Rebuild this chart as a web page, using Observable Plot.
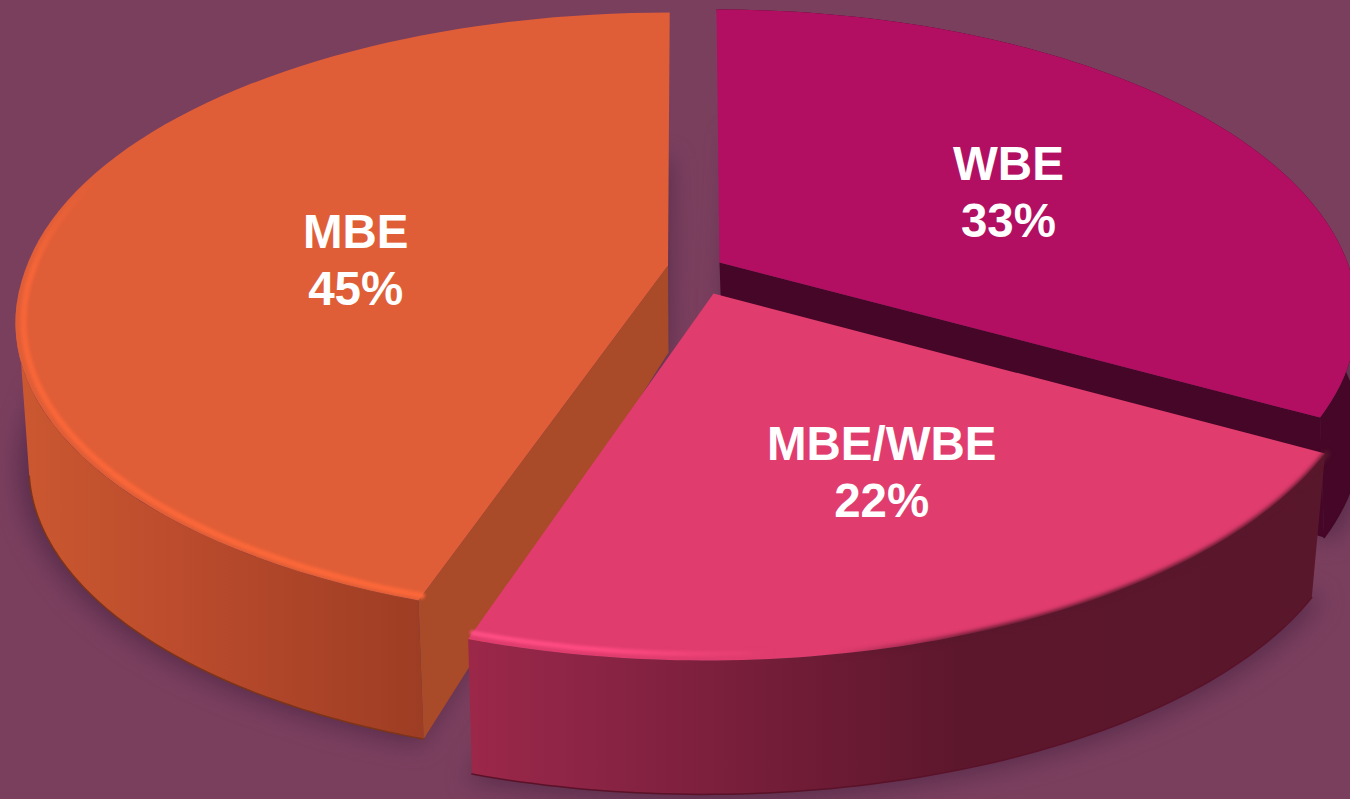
<!DOCTYPE html>
<html><head><meta charset="utf-8">
<script src="https://cdn.jsdelivr.net/npm/d3@7"></script>
<script src="https://cdn.jsdelivr.net/npm/@observablehq/plot@0.6"></script>
<style>html,body{margin:0;padding:0;background:#7b3f5e;overflow:hidden}svg{display:block}</style>
</head><body><div id="chart"></div>
<script>
const categories = ["MBE", "WBE", "MBE/WBE"];
const shares = [45, 33, 22];

// where each slice starts (clockwise from the back of the pie), in percent
const starts = {MBE: -45, WBE: 0, "MBE/WBE": 33};
const slicesLayout = {
  MBE:       {ax: 667.5, ay: 265, bx: 668, by: 352, cx: 668, cy: 410, a: 641, tb: 295.7, sb: 2,    sf: 12, lr: 0.5,  ld: 16, lx: 0},
  WBE:       {ax: 719,   ay: 262, bx: 722, by: 350, cx: 735, cy: 385, a: 628, tb: 295.7, sb: -3.5, sf: -3, lr: 0.55, ld: 7,  lx: 6},
  "MBE/WBE": {ax: 713,   ay: 293, bx: 706, by: 387, cx: 712, cy: 445, a: 645, tb: 305,   sb: 4,    sf: 7,  lr: 0.65, ld: -29, lx: 1}
};
const k = 0.1688, botB = 290, botScale = 0.98;
const orangeWallTopEnd = -27, orangeWallBotEnd = -28.5;

function project(sl, pct, r, plane) {
  const t = pct / 100 * 2 * Math.PI, X = r * Math.sin(t), Z = r * Math.cos(t), d = 1 + k * Z;
  const top = plane === "top";
  const a = top ? sl.a : sl.a * botScale, b = top ? sl.tb : botB;
  return {x: (top ? sl.ax : sl.cx) + (a * X + (Z > 0 ? sl.sb : sl.sf) * Z) / d, y: (top ? sl.ay : sl.cy) - b * Z / d};
}
function arc(sl, p0, p1, r, plane, n = 80) {
  return d3.range(n + 1).map(i => project(sl, p0 + (p1 - p0) * i / n, r, plane));
}
const apex = (sl, plane) => plane === "top" ? {x: sl.ax, y: sl.ay} : {x: sl.bx, y: sl.by};

const poly = (pts, fill) => Plot.line(pts, {x: "x", y: "y", fill, stroke: "none", curve: "linear-closed"});
const path = (pts, stroke, sw, filter) => Plot.line(pts, {x: "x", y: "y", stroke, strokeWidth: sw, fill: "none", imageFilter: filter, strokeLinecap: "round"});

const gradients = () => {
  const defs = d3.create("svg:defs");
  const add = (id, stops, vertical) => {
    const g = defs.append("linearGradient").attr("id", id).attr("x1", 0).attr("x2", vertical ? 0 : 1).attr("y1", 0).attr("y2", vertical ? 1 : 0);
    stops.forEach(([o, c, op]) => g.append("stop").attr("offset", o).attr("stop-color", c).attr("stop-opacity", op ?? 1));
  };
  add("wallO", [[0, "#cb5830"], [0.45, "#b94a2c"], [1, "#9d3d23"]]);
  add("wallP", [[0, "#9c2749"], [0.11, "#8f2547"], [0.39, "#701c36"], [0.57, "#5d172d"], [1, "#59172b"]]);
  add("rimP", [[0, "#ff4f85"], [0.16, "#ff4a80"], [0.36, "#ff4a80", 0], [1, "#ff4a80", 0]]);
  add("rimD", [[0, "#5a172c", 0], [0.42, "#5a172c", 0], [0.6, "#5a172c"], [1, "#5a172c"]]);
  add("rimO", [[0, "#fb6739", 0], [0.22, "#fb6739", 0.8], [1, "#fb6739"]], true);
  return defs.node();
};

const marks = [gradients];
// soft shadows on the background
categories.forEach((c, i) => {
  const sl = slicesLayout[c], p0 = starts[c], p1 = p0 + shares[i];
  marks.push(Plot.line([apex(sl, "bot"), ...arc(sl, p0, p1, 1.015, "bot")], {x: "x", y: "y", fill: "#4f2745", fillOpacity: 0.75, stroke: "none", curve: "linear-closed", imageFilter: "blur(12px)"}));
});

const looks = {
  WBE: {top: "#b20f63", wall: "#450627", cut: "#450627", edge: "#450627"},
  "MBE/WBE": {top: "#e03c6e", wall: "url(#wallP)", cut: null, edge: "#5a1229"},
  MBE: {top: "#e05e37", wall: "url(#wallO)", cut: "#a94a29", edge: "#7d3418"}
};
["WBE", "MBE", "MBE/WBE"].forEach(c => {
  const sl = slicesLayout[c], i = categories.indexOf(c), p0 = starts[c], p1 = p0 + shares[i], L = looks[c];
  const wt = c === "MBE" ? orangeWallTopEnd : p1, wb = c === "MBE" ? orangeWallBotEnd : p1;
  marks.push(poly([...arc(sl, p0, wt, 1, "top"), ...arc(sl, wb, p0, 1, "bot")], L.wall));
  marks.push(path(arc(sl, p0, wb, 1, "bot"), L.edge, 1.5));
  if (L.cut) {
    const cutAt = c === "MBE" ? p0 : p1;
    marks.push(poly([apex(sl, "top"), project(sl, cutAt, 1, "top"), project(sl, cutAt, 1, "bot"), apex(sl, "bot")], L.cut));
  }
  marks.push(poly([apex(sl, "top"), ...arc(sl, p0, p1, 1, "top")], L.top));
  if (c === "MBE") marks.push(path(arc(sl, -45, -20, 0.988, "top"), "url(#rimO)", 6, "blur(1.5px)"));
  if (c === "MBE/WBE") {
    marks.push(path(arc(sl, p1, p0, 0.985, "top"), "url(#rimP)", 5, "blur(1.5px)"));
    marks.push(path(arc(sl, p1, p0, 1.002, "top"), "url(#rimD)", 6, "blur(2px)"));
  }
});

const labels = categories.map((c, i) => {
  const sl = slicesLayout[c], p = project(sl, starts[c] + shares[i] / 2, sl.lr, "top");
  return {x: p.x + sl.lx, y: p.y + sl.ld, text: `${c}\n${shares[i]}%`};
});
marks.push(Plot.text(labels, {x: "x", y: "y", text: "text", fill: "#fff", fontSize: 47.5, fontWeight: 700, fontFamily: "Liberation Sans", lineHeight: 1.2, textAnchor: "middle"}));

document.getElementById("chart").append(Plot.plot({
  width: 1350, height: 799, margin: 0, style: {background: "#7b3f5e"},
  x: {domain: [0, 1350], range: [0, 1350], axis: null},
  y: {domain: [0, 799], range: [0, 799], axis: null},
  marks
}));
</script></body></html>
